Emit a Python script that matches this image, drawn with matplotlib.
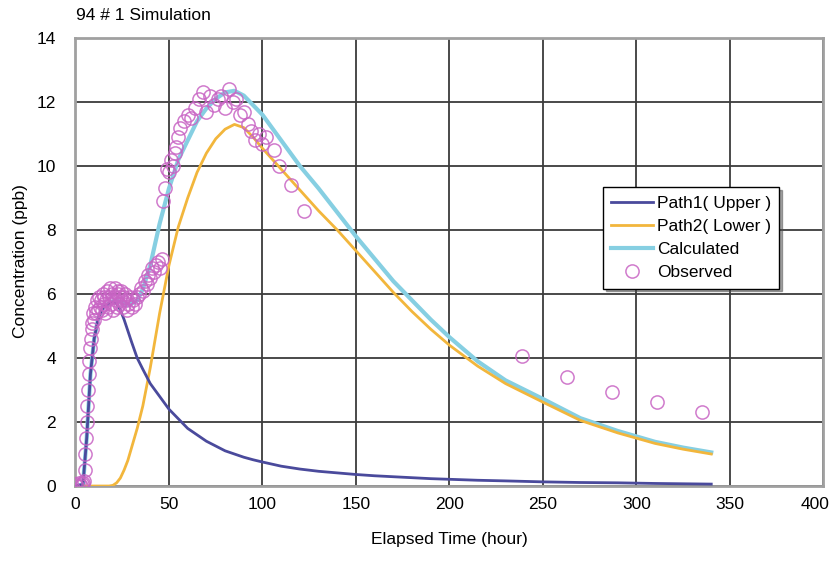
import matplotlib
matplotlib.use("Agg")
from matplotlib import pyplot as plt
from matplotlib.transforms import ScaledTranslation

plt.rcParams['font.family'] = ['Liberation Sans', 'DejaVu Sans']

# model time grid (hour)
t_model = [0, 4, 6, 8, 10, 12, 14, 16, 18, 20, 22, 24, 26, 28, 30, 33, 36, 40, 45,
           50, 55, 60, 65, 70, 75, 80, 85, 90, 95, 100, 110, 120, 130, 140, 150,
           160, 170, 180, 190, 200, 215, 230, 250, 270, 290, 310, 325, 340]

path1 = [0, 0.05, 1.5, 3.5, 4.6, 5.2, 5.5, 5.65, 5.7, 5.75, 5.7, 5.5, 5.2, 4.85,
         4.5, 4.0, 3.65, 3.2, 2.8, 2.4, 2.1, 1.8, 1.6, 1.4, 1.25, 1.1, 1.0, 0.9,
         0.82, 0.75, 0.62, 0.53, 0.46, 0.41, 0.36, 0.32, 0.29, 0.26, 0.23, 0.21,
         0.18, 0.16, 0.13, 0.11, 0.1, 0.08, 0.07, 0.06]

path2 = [0, 0, 0, 0, 0, 0, 0, 0, 0, 0.02, 0.1, 0.25, 0.5, 0.8, 1.2, 1.8, 2.5, 3.7,
         5.4, 6.9, 8.1, 9.0, 9.8, 10.4, 10.85, 11.15, 11.3, 11.2, 10.9, 10.55, 9.9,
         9.25, 8.6, 8.0, 7.35, 6.7, 6.05, 5.45, 4.9, 4.4, 3.75, 3.2, 2.62, 2.05,
         1.66, 1.33, 1.15, 1.0]

calculated = [0, 0.05, 1.5, 3.5, 4.6, 5.2, 5.5, 5.65, 5.7, 5.77, 5.8, 5.75, 5.7,
              5.65, 5.7, 5.8, 6.15, 6.9, 8.2, 9.3, 10.2, 10.8, 11.4, 11.8, 12.1,
              12.3, 12.35, 12.2, 11.9, 11.6, 10.8, 10.0, 9.3, 8.55, 7.8, 7.1, 6.4,
              5.8, 5.2, 4.65, 3.9, 3.3, 2.72, 2.12, 1.72, 1.38, 1.2, 1.05]

# observed concentrations
obs_t = [0, 1, 2, 3, 3.5, 4, 4.5, 5, 5.3, 5.6, 6, 6.3, 6.6, 7, 7.4, 7.8, 8.2,
         8.6, 9, 9.5, 10, 10.5, 11, 11.5, 12, 12.5, 13, 13.5, 14, 14.5, 15,
         15.5, 16, 16.5, 17, 17.5, 18, 18.5, 19, 19.5, 20, 20.5, 21, 21.5, 22,
         22.5, 23, 23.5, 24, 24.5, 25, 25.5, 26, 26.5, 27, 27.5, 28, 29, 30, 31,
         32, 33, 34, 35, 36, 37, 38, 39, 40, 41, 42, 43, 44, 45, 46, 47, 48, 49,
         50, 51, 52, 53, 54, 55, 56, 58, 60, 62, 64, 66, 68, 70, 72, 74, 76, 78,
         80, 82, 84, 86, 88, 90, 92, 94, 96, 98, 100, 102, 106, 109, 115, 122,
         239, 263, 287, 311, 335]
obs_c = [0.05, 0, 0.1, 0, 0.05, 0.1, 0.15, 0.5, 1.0, 1.5, 2.0, 2.5, 3.0, 3.5,
         3.9, 4.3, 4.6, 4.9, 5.1, 5.4, 5.2, 5.6, 5.4, 5.8, 5.5, 5.9, 5.6, 5.8,
         5.5, 6.0, 5.7, 5.9, 5.4, 5.8, 6.1, 5.6, 5.9, 6.2, 5.7, 6.0, 5.5, 5.9,
         6.2, 5.8, 5.6, 6.1, 6.0, 5.7, 5.9, 6.1, 5.8, 5.6, 5.9, 6.0, 5.8, 5.5,
         5.7, 5.9, 5.6, 5.8, 5.7, 5.9, 6.0, 6.2, 6.1, 6.4, 6.3, 6.6, 6.5, 6.8,
         6.7, 6.9, 7.0, 6.8, 7.1, 8.9, 9.3, 9.9, 9.8, 10.2, 10.0, 10.4, 10.6,
         10.9, 11.2, 11.4, 11.6, 11.5, 11.8, 12.1, 12.3, 11.7, 12.2, 11.9, 12.1,
         12.2, 11.8, 12.4, 12.0, 12.1, 11.6, 11.7, 11.3, 11.1, 10.8, 11.0, 10.7,
         10.9, 10.5, 10.0, 9.4, 8.6, 4.05, 3.4, 2.95, 2.62, 2.3]

xticks = [0, 50, 100, 150, 200, 250, 300, 350, 400]
yticks = [0, 2, 4, 6, 8, 10, 12, 14]

fig = plt.figure(figsize=(8.36, 5.62), dpi=100)
ax = fig.add_axes([0.0903, 0.1352, 0.8947, 0.7972])

ax.plot(t_model, path1, color='#4a4a9c', lw=2.0, label='Path1( Upper )', zorder=4)
ax.plot(t_model, path2, color='#f2b63c', lw=2.0, label='Path2( Lower )', zorder=3)
ax.plot(t_model, calculated, color='#86cfe2', lw=3.0, label='Calculated', zorder=2)
ax.plot(obs_t, obs_c, 'o', ms=9.5, mfc='none', mec='#c864c4', mew=1.1,
        alpha=0.85, label='Observed', zorder=5)

ax.set_xlim(0, 400)
ax.set_ylim(0, 14)
ax.set_xticks(xticks)
ax.set_yticks(yticks)
ax.tick_params(length=0, labelsize=12.5)
ax.tick_params(axis='y', pad=14)
ax.tick_params(axis='x', pad=8)
ax.grid(True, color='#3c3c3c', lw=1.3)
ax.set_axisbelow(True)
for sp in ax.spines.values():
    sp.set_color('#a0a0a0')
    sp.set_linewidth(2)

# keep the last x label inside the figure
last = ax.get_xticklabels()[-1]
last.set_transform(last.get_transform() + ScaledTranslation(-0.08, 0, fig.dpi_scale_trans))

ax.set_xlabel('Elapsed Time (hour)', fontsize=12.5, labelpad=14)
fig.text(0.024, 0.535, 'Concentration (ppb)', rotation=90, fontsize=12.5,
         ha='center', va='center')
fig.text(0.091, 0.973, '94 # 1 Simulation', fontsize=12.5, ha='left', va='center')

leg = ax.legend(loc='upper left', bbox_to_anchor=(0.705, 0.667), borderaxespad=0,
                fontsize=12.5, handlelength=2.4, handletextpad=0.2,
                labelspacing=0.45, borderpad=0.5, fancybox=False, shadow=True,
                framealpha=1)
leg.get_frame().set_edgecolor('black')
leg.get_frame().set_linewidth(1.0)

fig.savefig('out.png', dpi=100)
